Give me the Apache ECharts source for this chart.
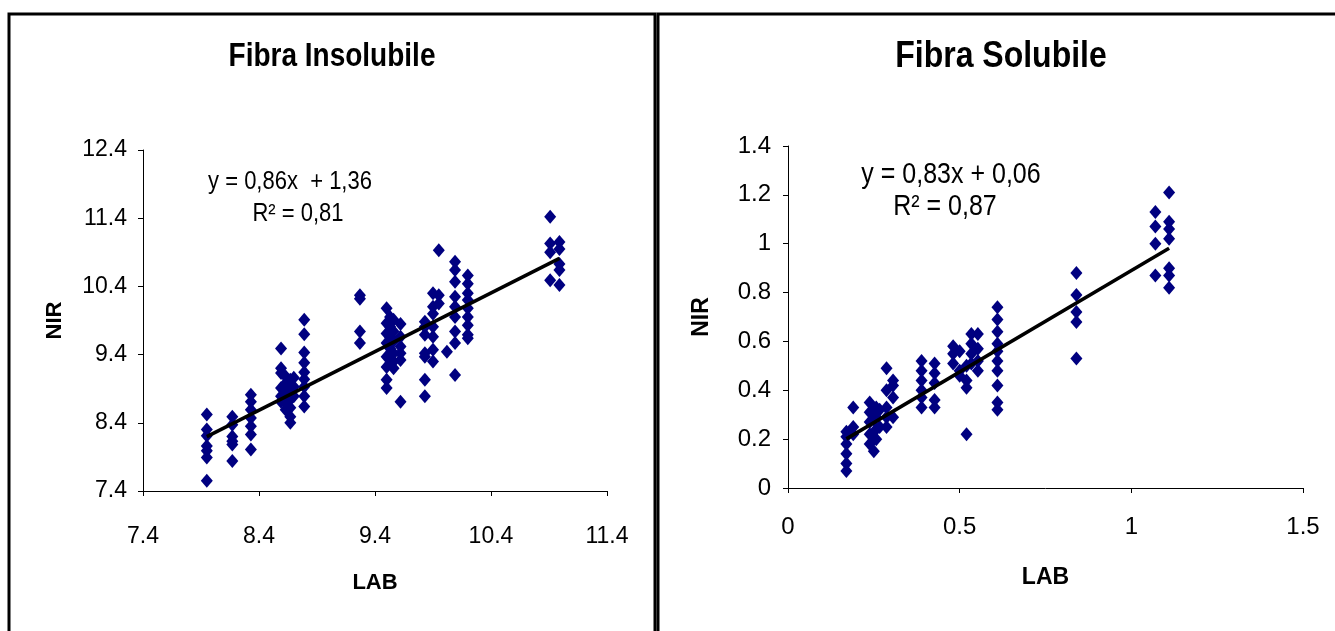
<!DOCTYPE html>
<html>
<head>
<meta charset="utf-8">
<script src="https://cdn.jsdelivr.net/npm/echarts@6/dist/echarts.min.js"></script>
<style>
html,body{margin:0;padding:0;background:#fff;}
#chart{width:1335px;height:631px;}
</style>
</head>
<body>
<div id="chart"></div>
<script>
// ---------- Fibra Insolubile (LAB columns and NIR values per column) ----------
var insolLab = [7.95, 8.17, 8.33, 8.59, 8.63, 8.67, 8.70, 8.79, 9.27, 9.50, 9.53, 9.56, 9.62, 9.83, 9.90, 9.95, 10.02, 10.09, 10.20, 10.91, 10.99];
var insolNir = [
  [8.52, 8.30, 8.21, 8.06, 7.99, 7.89, 7.55],
  [8.49, 8.37, 8.20, 8.13, 8.08, 7.84],
  [8.81, 8.71, 8.59, 8.47, 8.35, 8.23, 8.01],
  [9.49, 9.20, 9.13, 8.91, 8.79, 8.71],
  [9.08, 8.98, 8.84, 8.69, 8.59],
  [9.03, 8.88, 8.74, 8.62, 8.49, 8.40],
  [9.06, 8.93, 8.79],
  [9.91, 9.70, 9.43, 9.28, 9.14, 9.04, 8.93, 8.79, 8.64],
  [10.27, 10.22, 9.74, 9.57],
  [10.08, 9.86, 9.71, 9.57, 9.37, 9.22, 9.03, 8.91],
  [9.95, 9.81, 9.66, 9.49, 9.35, 9.27],
  [9.91, 9.74, 9.60, 9.42, 9.30, 9.20],
  [9.85, 9.66, 9.52, 9.42, 9.32, 8.71],
  [9.88, 9.81, 9.69, 9.42, 9.37, 9.03, 8.79],
  [10.30, 10.10, 10.00, 9.81, 9.66, 9.47, 9.30],
  [10.93, 10.27, 10.15],
  [9.44],
  [10.76, 10.64, 10.47, 10.25, 10.10, 9.95, 9.74, 9.57, 9.10],
  [10.56, 10.44, 10.30, 10.20, 10.08, 9.95, 9.83, 9.69, 9.64],
  [11.42, 11.03, 10.90, 10.49],
  [11.05, 10.95, 10.73, 10.64, 10.42]
];
var insolFit = {slope: 0.86, intercept: 1.36};
var insolTicks = [7.4, 8.4, 9.4, 10.4, 11.4, 12.4];
var insolXTicks = [7.4, 8.4, 9.4, 10.4, 11.4];

// ---------- Fibra Solubile ----------
var solLab = [0.17, 0.19, 0.238, 0.25, 0.257, 0.267, 0.287, 0.306, 0.389, 0.427, 0.481, 0.50, 0.52, 0.534, 0.553, 0.61, 0.84, 1.07, 1.11];
var solNir = [
  [0.23, 0.21, 0.18, 0.14, 0.10, 0.07],
  [0.33, 0.25, 0.22],
  [0.35, 0.31, 0.27, 0.22, 0.18],
  [0.15, 0.28],
  [0.33, 0.29, 0.24, 0.20],
  [0.32, 0.25],
  [0.49, 0.40, 0.33, 0.29, 0.25],
  [0.44, 0.37, 0.29, 0.42],
  [0.52, 0.48, 0.44, 0.40, 0.37, 0.33],
  [0.51, 0.47, 0.43, 0.36, 0.33],
  [0.58, 0.55, 0.51],
  [0.56, 0.48, 0.46],
  [0.50, 0.44, 0.41, 0.22],
  [0.63, 0.59, 0.55, 0.51],
  [0.63, 0.57, 0.52, 0.48],
  [0.74, 0.69, 0.64, 0.59, 0.56, 0.52, 0.48, 0.42, 0.35, 0.32],
  [0.88, 0.79, 0.72, 0.68, 0.53],
  [1.13, 1.07, 1.00, 0.87],
  [1.21, 1.09, 1.06, 1.02, 0.90, 0.87, 0.82]
];
var solFit = {slope: 0.83, intercept: 0.06};

var titles = ['Fibra Insolubile', 'Fibra Solubile'];
var eqInsol = ['y = 0,86x  + 1,36', 'R² = 0,81'];
var eqSol = ['y = 0,83x + 0,06', 'R² = 0,87'];

function pairs(xs, ys) {
  var out = [];
  xs.forEach(function (x, i) { ys[i].forEach(function (y) { out.push([x, y]); }); });
  return out;
}
function fitLine(xs, fit) {
  var x0 = Math.min.apply(null, xs), x1 = Math.max.apply(null, xs);
  return [[x0, fit.slope * x0 + fit.intercept], [x1, fit.slope * x1 + fit.intercept]];
}

var FONT = "'Liberation Sans', Arial, sans-serif";
function ax(o) {
  var base = {
    axisLine: {show: true, onZero: false, lineStyle: {color: '#000', width: 1}},
    axisTick: {show: true, inside: false, length: 5, lineStyle: {color: '#000'}},
    splitLine: {show: false},
    axisLabel: {color: '#000', fontSize: 23, fontFamily: FONT, showMinLabel: true, showMaxLabel: true, hideOverlap: false},
    nameTextStyle: {color: '#000', fontSize: 22, fontWeight: 'bold', fontFamily: FONT},
    nameLocation: 'middle'
  };
  for (var k in o) {
    if (o[k] && typeof o[k] === 'object' && !Array.isArray(o[k]) && base[k]) {
      for (var j in o[k]) base[k][j] = o[k][j];
    } else base[k] = o[k];
  }
  return base;
}
function txt(x, y, s, size, bold, sy) {
  return {type: 'text', x: x, y: y, scaleY: sy || 1.18, z: 20,
    style: {text: s, fontSize: size, fontWeight: bold ? 'bold' : 'normal', fontFamily: FONT, fill: '#000', align: 'center', verticalAlign: 'middle'}};
}

var chart = echarts.init(document.getElementById('chart'), null, {renderer: 'canvas'});
var diamond = {color: '#000080', opacity: 1};
var option = {
  animation: false,
  backgroundColor: '#fff',
  grid: [
    {left: 143, top: 150, width: 464, height: 341, outerBoundsMode: 'none', containLabel: false},
    {left: 788, top: 146, width: 515, height: 342, outerBoundsMode: 'none', containLabel: false}
  ],
  xAxis: [
    ax({gridIndex: 0, type: 'value', min: 7.4, max: 11.4, name: 'LAB', nameGap: 81,
        axisLabel: {margin: 34, customValues: insolXTicks}, axisTick: {customValues: insolXTicks}}),
    ax({gridIndex: 1, type: 'value', min: 0, max: 1.5, interval: 0.5, name: 'LAB', nameGap: 78,
        axisLabel: {margin: 27, fontSize: 24}, nameTextStyle: {fontSize: 23}})
  ],
  yAxis: [
    ax({gridIndex: 0, type: 'value', min: 7.4, max: 12.4, name: 'NIR', nameGap: 77,
        axisLabel: {margin: 16, customValues: insolTicks}, axisTick: {customValues: insolTicks}}),
    ax({gridIndex: 1, type: 'value', min: 0, max: 1.4, interval: 0.2, name: 'NIR', nameGap: 75,
        axisLabel: {margin: 17, fontSize: 24}, nameTextStyle: {fontSize: 23}})
  ],
  series: [
    {type: 'scatter', xAxisIndex: 0, yAxisIndex: 0, symbol: 'diamond', symbolSize: [12, 14],
     itemStyle: diamond, data: pairs(insolLab, insolNir), z: 2},
    {type: 'line', xAxisIndex: 0, yAxisIndex: 0, data: fitLine(insolLab, insolFit), showSymbol: false,
     symbol: 'none', lineStyle: {color: '#000', width: 3.5}, z: 3},
    {type: 'scatter', xAxisIndex: 1, yAxisIndex: 1, symbol: 'diamond', symbolSize: [12, 14],
     itemStyle: diamond, data: pairs(solLab, solNir), z: 2},
    {type: 'line', xAxisIndex: 1, yAxisIndex: 1, data: fitLine(solLab, solFit), showSymbol: false,
     symbol: 'none', lineStyle: {color: '#000', width: 3.5}, z: 3}
  ],
  graphic: [
    {type: 'rect', shape: {x: 9, y: 14, width: 646, height: 650}, style: {fill: 'none', stroke: '#000', lineWidth: 3}, z: 10},
    {type: 'rect', shape: {x: 658, y: 14, width: 700, height: 650}, style: {fill: 'none', stroke: '#000', lineWidth: 3}, z: 10},
    txt(332, 57, titles[0], 28, true),
    txt(1001, 57, titles[1], 32, true),
    txt(290, 182, eqInsol[0], 22),
    txt(298, 214, eqInsol[1], 22),
    txt(951, 175, eqSol[0], 25),
    txt(945, 207, eqSol[1], 25)
  ]
};
chart.setOption(option);
</script>
</body>
</html>
